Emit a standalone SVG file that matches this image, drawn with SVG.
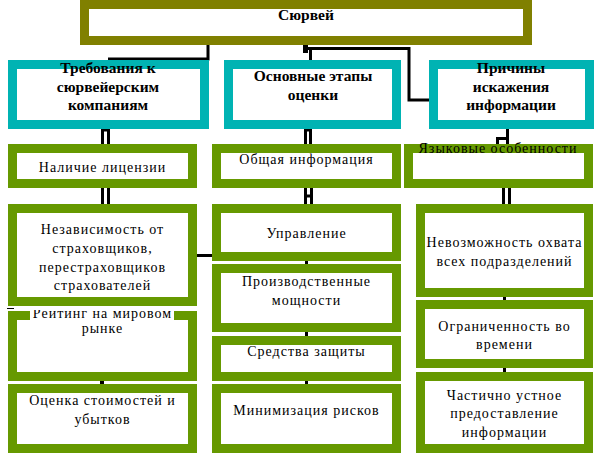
<svg xmlns="http://www.w3.org/2000/svg" width="601" height="473" viewBox="0 0 601 473">
<style>
.top{fill:#fff;stroke:#808000;stroke-width:9}
.hd{fill:#fff;stroke:#00b3b3;stroke-width:9}
.bx{fill:#fff;stroke:#669900;stroke-width:9}
text{font-family:'Liberation Serif','Times New Roman','DejaVu Serif',serif;font-size:14px;fill:#000;text-anchor:middle}
.h{font-weight:bold;font-size:15.5px}
.t{letter-spacing:1px}
.c{fill:none;stroke:#000;stroke-width:3}
</style>
<defs>
<clipPath id="clipR"><rect x="0" y="310" width="200" height="30"/></clipPath>
</defs>
<rect width="601" height="473" fill="#fff"/>
<g id="connectors">
<path class="c" d="M208,45 V59 H108"/>
<rect x="303" y="45" width="5" height="8" fill="#000"/>
<path class="c" d="M303,48.5 H409 V100 H429"/>
<path class="c" d="M310.5,48 V61"/>
<path class="c" d="M102.5,144 V130 H108.5 V144"/>
<path class="c" d="M102.5,188 V204 M108.5,188 V204"/>
<path class="c" d="M197,255.5 H212"/>
<path stroke="#000" stroke-width="1" d="M7,308.5 H14"/>
<rect x="100" y="381" width="4" height="3" fill="#000"/>
<path class="c" d="M305.5,144 V130 H310.5 V144"/>
<path class="c" d="M305.5,188 V204 M311.5,188 V204 M305.5,196 H311.5"/>
<path class="c" d="M306.5,261 V264 M306.5,332 V336 M306.5,381 V384"/>
<path class="c" d="M507.5,128 V144 M497.5,144 V138.5 H507.5"/>
<path class="c" d="M503.5,188 V204 M509.5,188 V204"/>
<path class="c" d="M504.5,297 V300 M504.5,368 V372"/>
</g>
<g id="n-survey">
<rect class="top" x="84.5" y="4.5" width="443" height="36"/>
<text class="h" x="306" y="20">Сюрвей</text>
</g>
<g id="n-req">
<rect class="hd" x="12.5" y="64.5" width="192" height="60"/>
<text class="h" x="108" y="73">Требования к</text>
<text class="h" x="108" y="92">сюрвейерским</text>
<text class="h" x="108" y="110">компаниям</text>
</g>
<g id="n-stages">
<rect class="hd" x="228.5" y="64.5" width="168" height="60"/>
<text class="h" x="313" y="81">Основные этапы</text>
<text class="h" x="313" y="100">оценки</text>
</g>
<g id="n-causes">
<rect class="hd" x="433.5" y="64.5" width="156" height="60"/>
<text class="h" x="511" y="73">Причины</text>
<text class="h" x="511" y="92">искажения</text>
<text class="h" x="511" y="110">информации</text>
</g>
<g id="n-license">
<rect class="bx" x="12.5" y="148.5" width="180" height="35"/>
<text class="t" x="102.5" y="172">Наличие лицензии</text>
</g>
<g id="n-rating">
<rect class="bx" x="12.5" y="315.5" width="180" height="61"/>
<rect x="30" y="310" width="144" height="11" fill="#fff"/>
<text class="t" x="102.5" y="318" clip-path="url(#clipR)">Рейтинг на мировом</text>
<text class="t" x="102.5" y="333">рынке</text>
</g>
<g id="n-indep">
<rect class="bx" x="12.5" y="208.5" width="180" height="93"/>
<text class="t" x="102.5" y="234">Независимость от</text>
<text class="t" x="102.5" y="253">страховщиков,</text>
<text class="t" x="102.5" y="272">перестраховщиков</text>
<text class="t" x="102.5" y="290">страхователей</text>
</g>
<g id="n-cost">
<rect class="bx" x="12.5" y="388.5" width="180" height="60"/>
<text class="t" x="102.5" y="405">Оценка стоимостей и</text>
<text class="t" x="102.5" y="424">убытков</text>
</g>
<g id="n-general">
<rect class="bx" x="216.5" y="148.5" width="180" height="35"/>
<text class="t" x="306.5" y="164">Общая информация</text>
</g>
<g id="n-mgmt">
<rect class="bx" x="216.5" y="208.5" width="180" height="48"/>
<text class="t" x="306.5" y="238">Управление</text>
</g>
<g id="n-capacity">
<rect class="bx" x="216.5" y="268.5" width="180" height="59"/>
<text class="t" x="306.5" y="286">Производственные</text>
<text class="t" x="306.5" y="305">мощности</text>
</g>
<g id="n-protect">
<rect class="bx" x="216.5" y="340.5" width="180" height="36"/>
<text class="t" x="306.5" y="356">Средства защиты</text>
</g>
<g id="n-risk">
<rect class="bx" x="216.5" y="388.5" width="180" height="60"/>
<text class="t" x="306.5" y="415">Минимизация рисков</text>
</g>
<g id="n-lang">
<rect class="bx" x="408.5" y="148.5" width="180" height="35"/>
<text class="t" x="498" y="153">Языковые особенности</text>
</g>
<g id="n-coverage">
<rect class="bx" x="420.5" y="208.5" width="168" height="84"/>
<text class="t" x="504.5" y="247">Невозможность охвата</text>
<text class="t" x="504.5" y="266">всех подразделений</text>
</g>
<g id="n-time">
<rect class="bx" x="420.5" y="304.5" width="168" height="59"/>
<text class="t" x="504.5" y="331">Ограниченность во</text>
<text class="t" x="504.5" y="349">времени</text>
</g>
<g id="n-oral">
<rect class="bx" x="420.5" y="376.5" width="168" height="72"/>
<text class="t" x="504.5" y="400">Частично устное</text>
<text class="t" x="504.5" y="418">предоставление</text>
<text class="t" x="504.5" y="437">информации</text>
</g>
</svg>
